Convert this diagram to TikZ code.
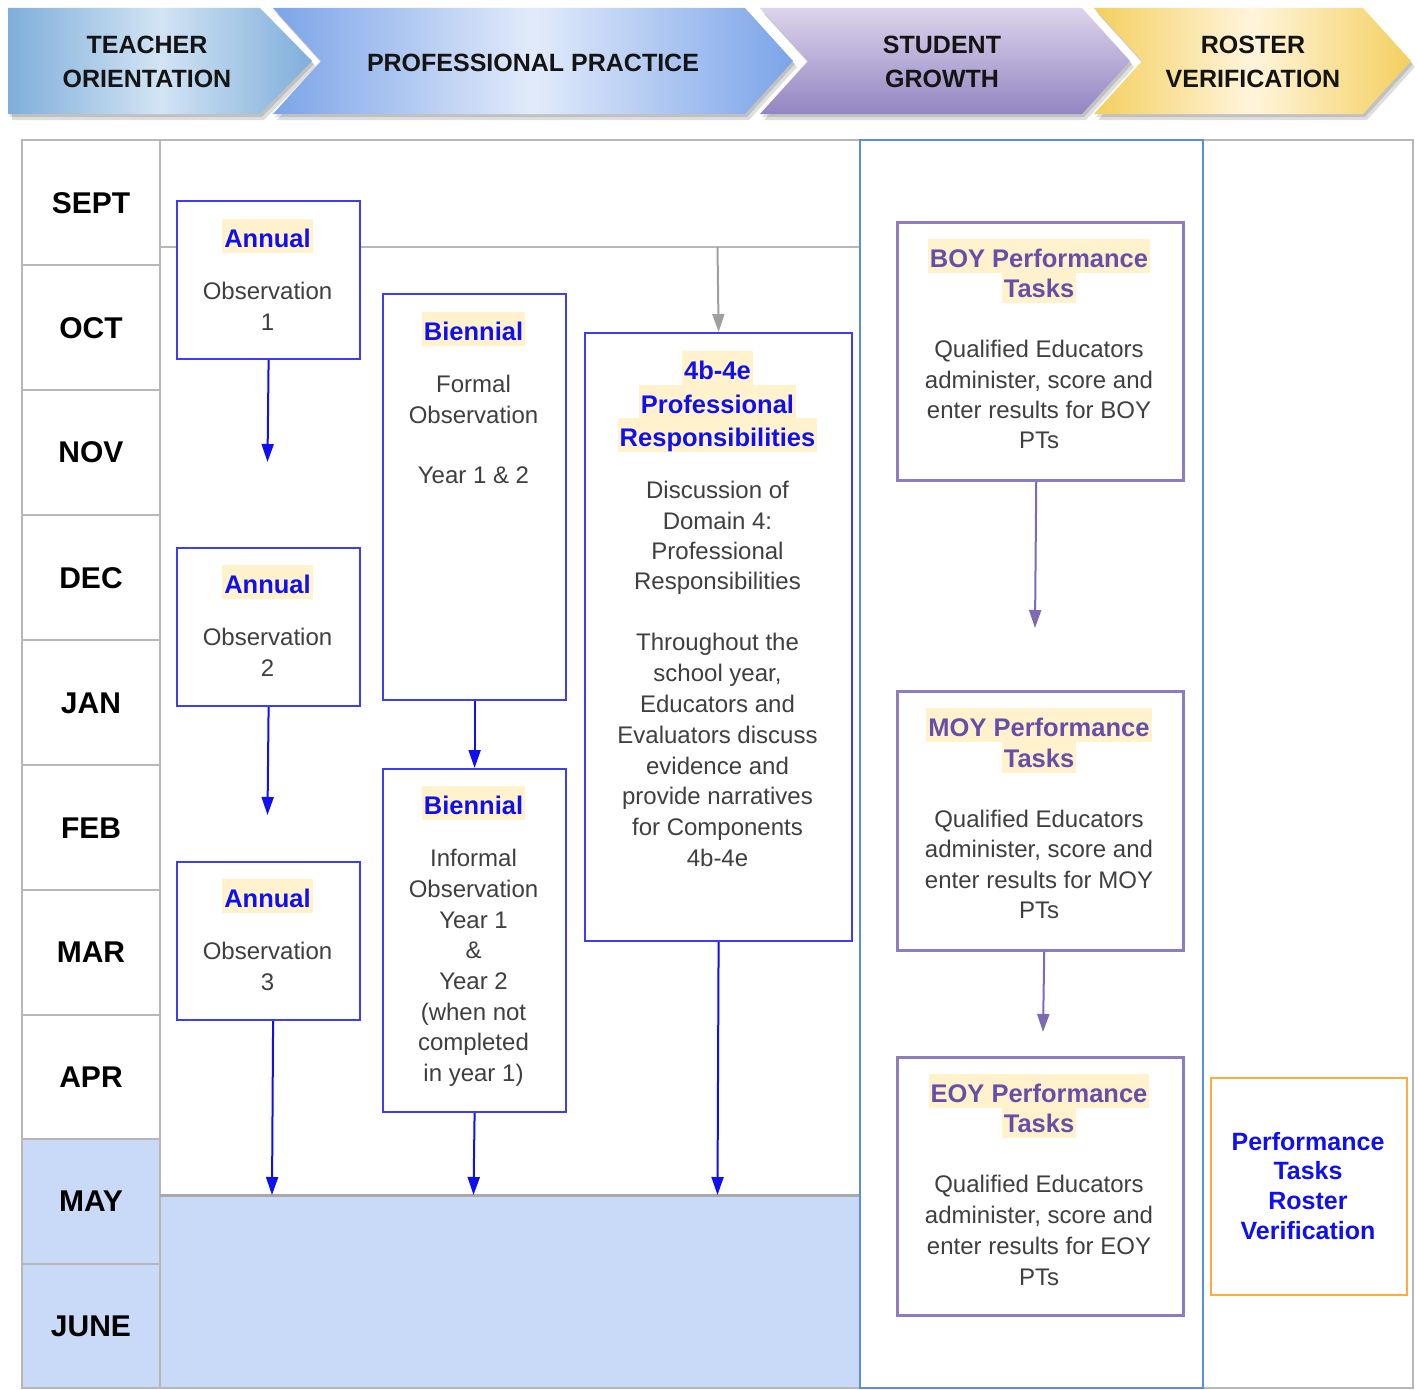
\documentclass[tikz,border=0pt]{standalone}
\usepackage{fontspec}
\setmainfont{Liberation Sans}
\usetikzlibrary{arrows.meta}
\definecolor{gridc}{HTML}{B7B7B7}
\definecolor{gridd}{HTML}{A9A9A9}
\definecolor{sgblue}{HTML}{5B8DE0}
\definecolor{mayfill}{HTML}{C9DAF8}
\definecolor{boxblue}{HTML}{3D3DF5}
\definecolor{txtblue}{HTML}{1010EE}
\definecolor{hlc}{HTML}{FFF2CC}
\definecolor{boxpur}{HTML}{8E7CC3}
\definecolor{txtpur}{HTML}{674EA7}
\definecolor{boxora}{HTML}{FFAB40}
\definecolor{bodyc}{HTML}{3F3F3F}
\definecolor{arrgray}{HTML}{A0A0A0}
\definecolor{cAe}{HTML}{7FAEDB}
\definecolor{cAm}{HTML}{D2E4F4}
\definecolor{cBe}{HTML}{7BA4E8}
\definecolor{cBm}{HTML}{E2EBFA}
\definecolor{cCt}{HTML}{DCD4EC}
\definecolor{cCb}{HTML}{9385C2}
\definecolor{cDe}{HTML}{F4CF5E}
\definecolor{cDm}{HTML}{FFF5DC}
\newcommand\txtlines[6]{\foreach \lnt [count=\lni from 0] in {#6}{\node[#1] (#2\lni) at (#3,{#4+#5*\lni}) {\lnt};}}
\begin{document}
\begin{tikzpicture}[x=1pt,y=-1pt,
  hdr/.style={font=\bfseries\fontsize{25}{30}\selectfont, text=black!92, inner sep=0pt, text height=18pt, text depth=0pt},
  mon/.style={font=\bfseries\fontsize{30}{36}\selectfont, text=black, inner sep=0pt, text height=21.5pt, text depth=0pt},
  bd/.style={font=\fontsize{24}{30}\selectfont, text=bodyc, inner sep=0pt, text height=17.2pt, text depth=0pt},
  ttl/.style={font=\bfseries\fontsize{25.5}{30}\selectfont, text=txtblue, fill=hlc, inner xsep=2pt, inner ysep=0.3pt, text height=28pt, text depth=5pt},
  ttlp/.style={ttl, text=txtpur},
  rtx/.style={font=\bfseries\fontsize{25}{30}\selectfont, text=txtblue, inner sep=0pt, text height=18pt, text depth=0pt},
  boxb/.style={draw=boxblue, line width=2.2pt, fill=white, inner sep=0pt, anchor=north west},
  boxp/.style={draw=boxpur, line width=2.5pt, fill=white, inner sep=0pt, anchor=north west},
  boxo/.style={draw=boxora, line width=2pt, fill=white, inner sep=0pt, anchor=north west},
  arrb/.style={draw=txtblue, line width=2pt, -{Triangle[length=18pt,width=12pt]}},
  arrp/.style={draw=txtpur!85, line width=2pt, -{Triangle[length=18pt,width=12pt]}},
  arrg/.style={draw=arrgray, line width=2pt, -{Triangle[length=18pt,width=12pt]}},
  grid/.style={draw=gridc, line width=2pt},
  shd/.style={fill=black, opacity=0.13}
]
\useasboundingbox (0,0) rectangle (1418,1389);
\fill[white] (0,0) rectangle (1418,1389);

% ---------- header chevrons ----------
\foreach \dx/\dy in {2/3,4/6}{
  \begin{scope}[shift={(\dx,\dy)}]
    \fill[shd] (8,8) -- (260,8) -- (312,61) -- (260,114) -- (8,114) -- cycle;
    \fill[shd] (273,8) -- (745,8) -- (793,61) -- (745,114) -- (273,114) -- (321,61) -- cycle;
    \fill[shd] (760,8) -- (1082,8) -- (1130,61) -- (1082,114) -- (760,114) -- (808,61) -- cycle;
    \fill[shd] (1094,8) -- (1363,8) -- (1411,61) -- (1363,114) -- (1094,114) -- (1142,61) -- cycle;
  \end{scope}}
\shade[left color=cAe, right color=cAe, middle color=cAm] (8,8) -- (260,8) -- (312,61) -- (260,114) -- (8,114) -- cycle;
\shade[left color=cBe, right color=cBe, middle color=cBm] (273,8) -- (745,8) -- (793,61) -- (745,114) -- (273,114) -- (321,61) -- cycle;
\shade[top color=cCt, bottom color=cCb] (760,8) -- (1082,8) -- (1130,61) -- (1082,114) -- (760,114) -- (808,61) -- cycle;
\shade[left color=cDe, right color=cDe, middle color=cDm] (1094,8) -- (1363,8) -- (1411,61) -- (1363,114) -- (1094,114) -- (1142,61) -- cycle;

\node[hdr] (h1a) at (147,45) {TEACHER};
\node[hdr] (h1b) at (147,78) {ORIENTATION};
\node[hdr] (h2) at (533,62) {PROFESSIONAL PRACTICE};
\node[hdr] (h3a) at (942,45) {STUDENT};
\node[hdr] (h3b) at (942,78) {GROWTH};
\node[hdr] (h4a) at (1253,45) {ROSTER};
\node[hdr] (h4b) at (1253,78) {VERIFICATION};

% ---------- grid ----------
\fill[mayfill] (22,1139) rectangle (160,1388);
\fill[mayfill] (160,1195) rectangle (860,1388);
\draw[grid] (22,140) rectangle (1413,1388);
\draw[grid] (160,140) -- (160,1388);
\foreach \yy in {265,390,515,640,765,890,1015,1139,1264}{\draw[grid] (22,\yy) -- (160,\yy);}
\draw[draw=gridd, line width=3pt] (160,1195) -- (860,1195);
\draw[grid] (160,247) -- (860,247);
\draw[draw=sgblue, line width=1.8pt] (860,140) rectangle (1203,1388);

% months
\node[mon] (m1) at (91,203) {SEPT};
\node[mon] (m2) at (91,328) {OCT};
\node[mon] (m3) at (91,452) {NOV};
\node[mon] (m4) at (91,578) {DEC};
\node[mon] (m5) at (91,703) {JAN};
\node[mon] (m6) at (91,828) {FEB};
\node[mon] (m7) at (91,952) {MAR};
\node[mon] (m8) at (91,1077) {APR};
\node[mon] (m9) at (91,1201) {MAY};
\node[mon] (m10) at (91,1326) {JUNE};

% ---------- boxes ----------
\node[boxb, minimum width=183pt, minimum height=158pt] (a1) at (176,200) {};
\node[boxb, minimum width=183pt, minimum height=158pt] (a2) at (176,547) {};
\node[boxb, minimum width=183pt, minimum height=158pt] (a3) at (176,861) {};
\node[boxb, minimum width=183pt, minimum height=406pt] (b1) at (382,293) {};
\node[boxb, minimum width=183pt, minimum height=343pt] (b2) at (382,768) {};
\node[boxb, minimum width=267pt, minimum height=608pt] (pr) at (584,332) {};
\node[boxp, minimum width=286pt, minimum height=258pt] (boy) at (896,221) {};
\node[boxp, minimum width=286pt, minimum height=259pt] (moy) at (896,690) {};
\node[boxp, minimum width=286pt, minimum height=258pt] (eoy) at (896,1056) {};
\node[boxo, minimum width=196pt, minimum height=217pt] (ros) at (1210,1077) {};

% annual
\node[ttl] (a1t) at (267.5,236) {Annual};
\txtlines{bd}{a1l}{267.5}{291}{30.5}{Observation,1}
\node[ttl] (a2t) at (267.5,582) {Annual};
\txtlines{bd}{a2l}{267.5}{637}{30.5}{Observation,2}
\node[ttl] (a3t) at (267.5,896) {Annual};
\txtlines{bd}{a3l}{267.5}{951}{30.5}{Observation,3}

% biennial
\node[ttl] (b1t) at (473.5,329) {Biennial};
\txtlines{bd}{b1l}{473.5}{384}{30.5}{Formal,Observation}
\node[bd] (b1y) at (473.5,475) {Year 1 \& 2};
\node[ttl] (b2t) at (473.5,803) {Biennial};
\txtlines{bd}{b2l}{473.5}{858}{30.7}{Informal,Observation,Year 1,\&,Year 2,{(when not},completed,{in year 1)}}

% 4b-4e
\txtlines{ttl}{prt}{717.5}{368}{33.5}{4b-4e,Professional,Responsibilities}
\txtlines{bd}{prl}{717.5}{490}{30.4}{Discussion of,Domain 4:,Professional,Responsibilities}
\txtlines{bd}{prm}{717.5}{642}{30.85}{Throughout the,{school year,},Educators and,Evaluators discuss,evidence and,provide narratives,for Components,4b-4e}

% student growth
\txtlines{ttlp}{boyt}{1039}{256}{30}{BOY Performance,Tasks}
\txtlines{bd}{boyl}{1039}{349}{30.4}{Qualified Educators,{administer, score and},enter results for BOY,PTs}
\txtlines{ttlp}{moyt}{1039}{725}{31}{MOY Performance,Tasks}
\txtlines{bd}{moyl}{1039}{819}{30.3}{Qualified Educators,{administer, score and},enter results for MOY,PTs}
\txtlines{ttlp}{eoyt}{1039}{1091}{30}{EOY Performance,Tasks}
\txtlines{bd}{eoyl}{1039}{1184}{31}{Qualified Educators,{administer, score and},enter results for EOY,PTs}

% roster
\txtlines{rtx}{rosl}{1308}{1141}{29.7}{Performance,Tasks,Roster,Verification}

% ---------- connectors ----------
\coordinate (a1e) at (267.5,462);
\coordinate (a2e) at (267.5,815);
\coordinate (a3e) at (272,1195);
\coordinate (b2e) at (473.5,1195);
\coordinate (pre) at (717.5,1195);
\coordinate (grs) at (717.5,247);
\coordinate (boye) at (1035,628);
\coordinate (moye) at (1043,1032);
\draw[arrb] (a1.south) -- (a1e);
\draw[arrb] (a2.south) -- (a2e);
\draw[arrb] ([xshift=4.5pt]a3.south) -- (a3e);
\draw[arrb] (b1.south) -- (b2.north);
\draw[arrb] (b2.south) -- (b2e);
\draw[arrb] (pr.south) -- (pre);
\draw[arrg] (grs) -- (pr.north);
\draw[arrp] ([xshift=-4pt]boy.south) -- (boye);
\draw[arrp] ([xshift=4pt]moy.south) -- (moye);
\end{tikzpicture}
\end{document}
